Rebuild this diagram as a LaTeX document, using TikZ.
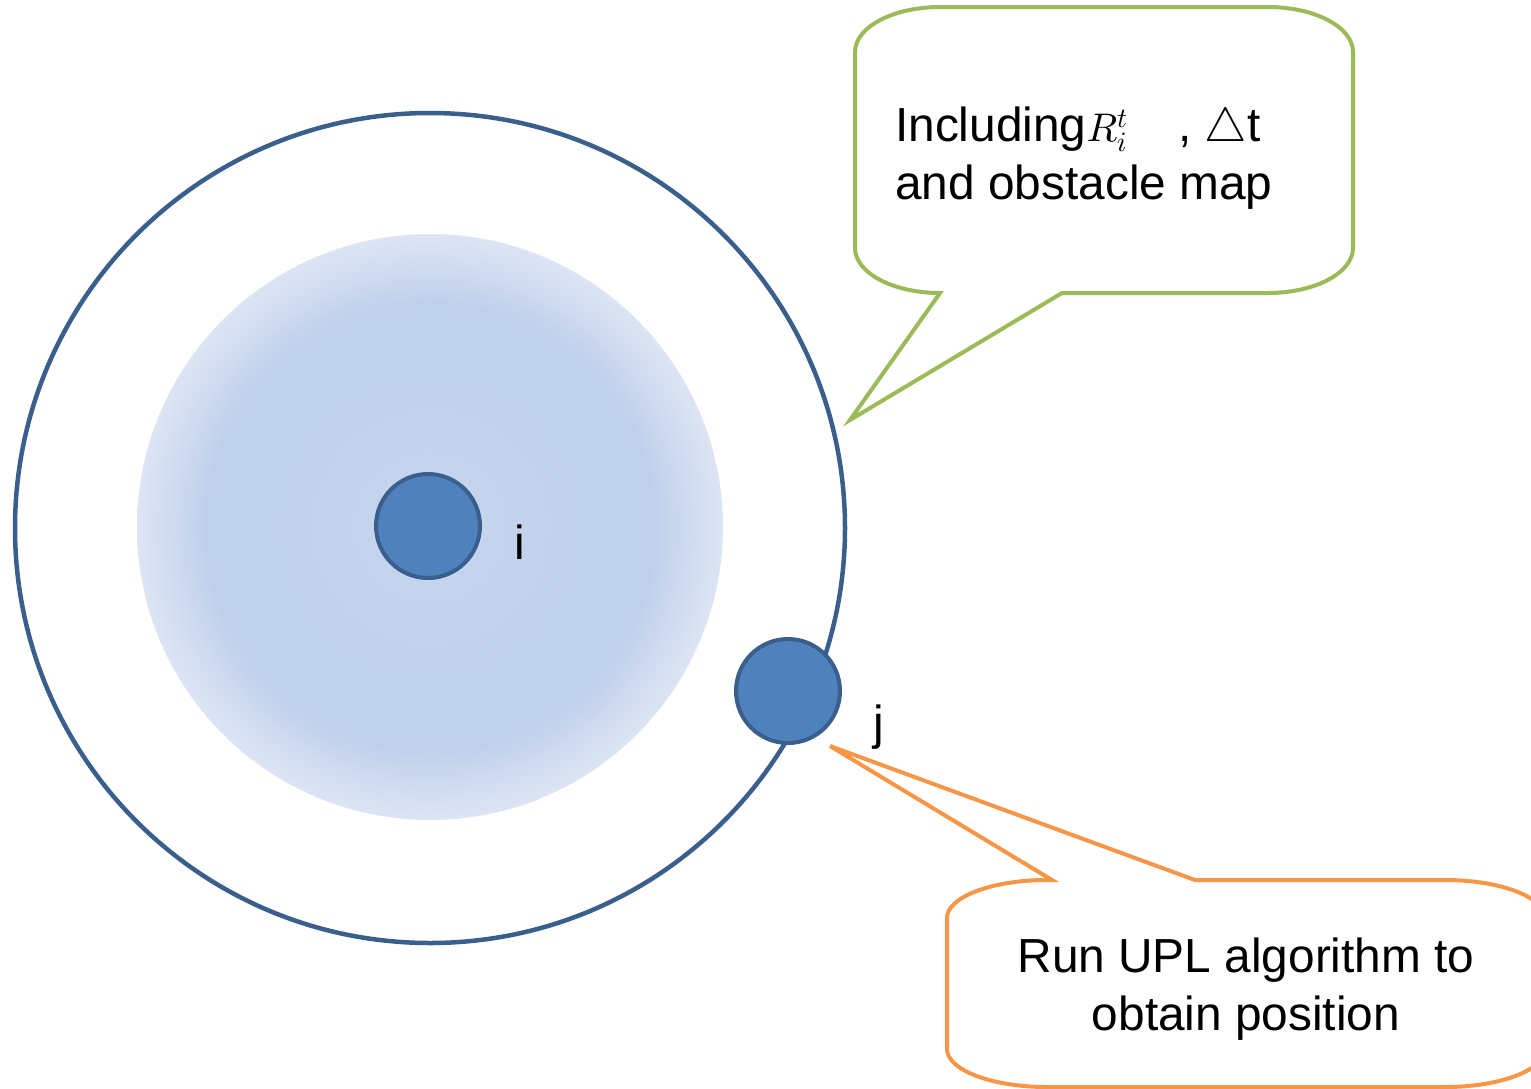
\documentclass[tikz,border=0pt]{standalone}
\usepackage{fontspec}
\setmainfont{Liberation Sans}
\usepackage{tikz}
\usetikzlibrary{positioning}

% scalable math fonts
\DeclareFontShape{OML}{cmm}{m}{it}{<->cmmi10}{}
\DeclareFontShape{OMS}{cmsy}{m}{n}{<->cmsy10}{}

\definecolor{ringblue}{HTML}{3A5F8D}
\definecolor{dotblue}{HTML}{4F81BD}
\definecolor{notegreen}{HTML}{9BBB59}
\definecolor{noteorange}{HTML}{F79646}
\definecolor{discin}{HTML}{C8D7EE}
\definecolor{discmid}{HTML}{BFD0EB}
\definecolor{discout}{HTML}{DDE5F4}

\pgfdeclareradialshading{discshade}{\pgfpoint{0bp}{0bp}}{color(0bp)=(discin); color(13bp)=(discmid); color(19bp)=(discmid); color(25bp)=(discout); color(50bp)=(discout)}

\tikzset{
  txt/.style={font=\fontsize{47.8}{57.3}\selectfont, inner sep=0pt},
  dot/.style={circle, draw=ringblue, line width=4pt, fill=dotblue, minimum size=104pt, inner sep=0pt},
  bubble/.style={line width=4pt, fill=white}
}

\begin{document}
\begin{tikzpicture}[x=1pt, y=-1pt]
  \useasboundingbox (0,0) rectangle (1531,1088);

  % range of i
  \shade[shading=discshade] (430,527) circle (293);
  \draw[ringblue, line width=4.5pt] (430,528) circle (415);

  \node[dot] (i) at (428,526) {};
  \node[dot] (j) at (788,691) {};
  \node[txt, anchor=base] (ilabel) at (520,559) {i};
  \node[txt, anchor=base] (jlabel) at (879,739) {j};

  % callouts
  \coordinate (greentip) at (850,420);
  \coordinate (orangetip) at (830,746);

  \draw[bubble, draw=notegreen] (940,293) -- (greentip) -- (1062,293) -- (1268,293)
    arc[start angle=90, end angle=0, x radius=85, y radius=45] -- (1353,52)
    arc[start angle=0, end angle=-90, x radius=85, y radius=45] -- (940,7)
    arc[start angle=-90, end angle=-180, x radius=85, y radius=45] -- (855,248)
    arc[start angle=180, end angle=90, x radius=85, y radius=45] -- cycle;
  \node[txt, anchor=base west, align=left] (greennote) at (895,199)
    {Including{\fontsize{40}{48}\selectfont$R_i^t$}\hspace{1.05em}, $\triangle$t\\and obstacle map};

  \draw[bubble, draw=noteorange] (1052,880) -- (orangetip) -- (1195,880) -- (1445,880)
    arc[start angle=-90, end angle=0, x radius=100, y radius=38] -- (1545,1049)
    arc[start angle=0, end angle=90, x radius=100, y radius=38] -- (1047,1087)
    arc[start angle=90, end angle=180, x radius=100, y radius=38] -- (947,918)
    arc[start angle=180, end angle=270, x radius=100, y radius=38] -- cycle;
  \node[txt, anchor=base, align=center] (orangenote) at (1246,1030)
    {Run UPL algorithm to\\obtain position};
\end{tikzpicture}
\end{document}
